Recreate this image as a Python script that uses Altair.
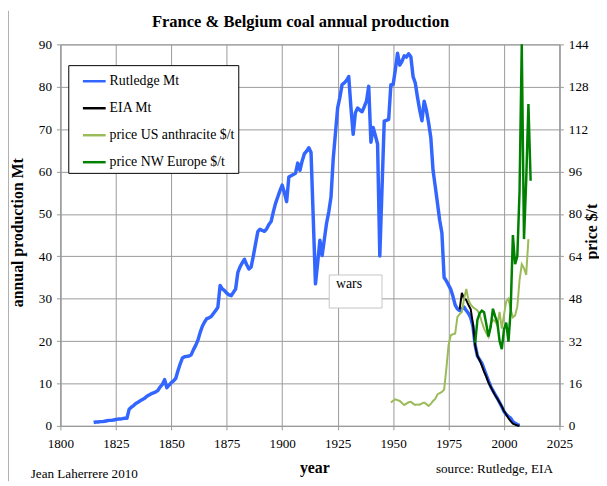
import altair as alt
import pandas as pd

# ---------------- data ----------------
SERIES = ["Rutledge Mt", "EIA Mt", "price US anthracite $/t", "price NW Europe $/t"]
COLORS = ["#3366FF", "#000000", "#9BBB59", "#008000"]

# Rutledge production France+Belgium, Mt, yearly from 1815
rut_start = 1815
rut_values = [
    0.8, 0.9, 0.9, 1.0, 1.0,                                   # 1815-1819
    1.1, 1.2, 1.3, 1.3, 1.4, 1.5, 1.6, 1.6, 1.7, 1.8,          # 1820s
    1.8, 3.9, 4.4, 4.8, 5.3, 5.6, 5.9, 6.2, 6.5, 7.0,          # 1830s
    7.3, 7.6, 7.8, 8.0, 8.4, 9.2, 9.8, 10.9, 9.0, 9.6,         # 1840s
    10.2, 10.6, 11.2, 13.0, 14.6, 16.0, 16.3, 16.4, 16.5, 16.8,  # 1850s
    18.0, 19.0, 20.2, 22.0, 23.5, 24.5, 25.3, 25.5, 25.8, 26.5,  # 1860s
    27.2, 28.0, 33.1, 32.3, 31.9, 31.3, 30.9, 30.7, 31.5, 32.3,  # 1870s
    36.2, 37.5, 38.5, 39.3, 38.0, 37.0, 37.5, 40.1, 43.0, 45.8,  # 1880s
    46.4, 46.1, 45.9, 46.5, 47.5, 48.2, 50.5, 52.5, 54.0, 55.5,  # 1890s
    56.8, 55.0, 52.9, 58.7, 59.0, 59.3, 59.6, 62.0, 60.3, 62.5,  # 1900s
    64.2, 64.8, 65.6, 64.5, 49.0, 33.5, 38.5, 43.8, 40.2, 44.0,  # 1910s
    47.8, 50.5, 54.0, 63.0, 69.0, 75.0, 77.5, 80.5, 80.9, 81.5,  # 1920s
    82.4, 75.0, 68.8, 73.9, 75.0, 74.5, 74.1, 75.3, 76.6, 80.1,  # 1930s
    66.9, 70.4, 68.5, 66.5, 40.1, 56.0, 71.9, 72.1, 72.3, 80.5,  # 1940s
    80.5, 84.0, 87.9, 85.1, 86.0, 87.3, 87.0, 87.8, 87.1, 82.4,  # 1950s
    80.9, 77.5, 74.5, 72.0, 76.6, 74.5, 71.5, 68.0, 60.3, 56.5,  # 1960s
    52.5, 48.5, 45.5, 35.0, 34.2, 33.2, 32.2, 30.5, 28.5, 27.6,  # 1970s
    27.2, 27.6, 28.0, 27.2, 26.5, 25.5, 23.5, 19.0, 16.5, 15.6,  # 1980s
    14.8, 13.4, 12.0, 10.6, 9.3, 8.3, 7.4, 6.5, 5.5, 4.5,        # 1990s
    3.4, 2.7, 2.2, 1.8, 1.0, 0.6, 0.3, 0.1,                      # 2000-2007
]

# EIA production, Mt, yearly from 1980
eia_start = 1980
eia_values = [
    27.5, 31.4, 30.0, 29.7, 28.5, 27.5, 24.0, 19.0, 16.5, 15.5,
    14.2, 12.8, 11.6, 10.2, 9.2, 8.2, 7.2, 6.4, 5.5, 4.6,
    3.5, 2.7, 1.8, 1.1, 0.5, 0.3, 0.1, 0.05,
]

# US anthracite price, $/t, yearly from 1949
us_start = 1949
us_values = [
    8.8,                                                        # 1949
    9.5, 10.0, 9.7, 9.4, 8.6, 7.9, 8.4, 8.9, 9.1, 8.4,          # 1950s
    7.9, 8.1, 8.0, 8.5, 8.8, 8.2, 7.5, 8.3, 9.4, 10.2,          # 1960s
    11.9, 12.4, 12.8, 13.7, 21.5, 30.5, 34.2, 34.6, 34.9, 41.1,  # 1970s
    42.2, 43.0, 48.0, 51.7, 47.3, 45.8, 44.8, 44.2, 43.6, 42.0,  # 1980s
    39.2, 36.7, 35.0, 33.6, 38.5, 40.0, 39.5, 38.0, 43.0, 36.7,  # 1990s
    42.0, 47.0, 48.0, 44.0, 41.0, 41.7, 45.0, 55.0, 61.0, 59.5,  # 2000s
    57.0, 70.5,                                                  # 2010-2011
]

# NW Europe steam coal price, $/t, yearly from 1987
eu_start = 1987
eu_values = [
    31.3, 40.0, 42.5,
    43.5, 42.9, 38.5, 33.7, 37.4, 44.2, 41.3, 39.0, 32.0, 29.0,
    36.5, 39.0, 31.8, 43.6, 72.0, 61.0, 64.0, 88.5, 144.0, 70.5,
    92.5, 121.5, 92.5,
]

TITLE = "France & Belgium coal annual production"
NOTES = ["Jean Laherrere 2010", "source: Rutledge, EIA"]

# annotation box "wars" (year / Mt coordinates)
wars_box = {"x1": [1921.2], "x2": [1945.0], "y1": [35.6], "y2": [27.8]}
wars_label = {"year": [1930.1], "value": [33.5], "t": ["wars"]}

X_TICKS = list(range(1800, 2026, 25))
Y_LEFT_TICKS = list(range(0, 91, 10))
Y_RIGHT_TICKS = list(range(0, 145, 16))


def frame(name, start, values):
    return pd.DataFrame({
        "year": list(range(start, start + len(values))),
        "value": values,
        "series": name,
    })


df_rut = frame(SERIES[0], rut_start, rut_values)
df_eia = frame(SERIES[1], eia_start, eia_values)
df_us = frame(SERIES[2], us_start, us_values)
df_eu = frame(SERIES[3], eu_start, eu_values)

FONT = "Liberation Serif"
GRID = "#9a9a9a"

W, H = 505, 386

xscale = alt.Scale(domain=[1800, 2025], nice=False, zero=False)
xaxis = alt.Axis(values=X_TICKS, format="d", title="year", grid=True,
                 labelFlush=False, labelPadding=7, titleX=257, titleY=42,
                 titleAlign="center", titleBaseline="middle")

yl_scale = alt.Scale(domain=[0, 90], nice=False)
yl_axis = alt.Axis(values=Y_LEFT_TICKS, title="annual production Mt", grid=True,
                   titleX=-43, titleY=190, titleAlign="center",
                   titleBaseline="middle", titleAngle=270)

yr_scale = alt.Scale(domain=[0, 144], nice=False)
yr_axis = alt.Axis(values=Y_RIGHT_TICKS, title="price $/t", grid=False,
                   orient="right", titleX=32, titleY=189, titleAngle=270,
                   titleAlign="center", titleBaseline="middle")

color = alt.Color(
    "series:N",
    scale=alt.Scale(domain=SERIES, range=COLORS),
    legend=alt.Legend(
        title=None, orient="none", legendX=8, legendY=21, direction="vertical",
        symbolType="stroke", symbolSize=529, symbolStrokeWidth=2.5,
        labelFont=FONT, labelFontSize=14, labelColor="black",
        labelExpr="datum.label + '\u00a0\u00a0\u00a0\u00a0\u00a0\u00a0\u00a0'",
        strokeColor="black", fillColor="white", padding=3.3, rowPadding=7.3,
        symbolOffset=10, labelOffset=2.5, cornerRadius=0,
    ),
)

X = alt.X("year:Q", scale=xscale, axis=xaxis)
YL = alt.Y("value:Q", scale=yl_scale, axis=yl_axis)
YR = alt.Y("value:Q", scale=yr_scale, axis=yr_axis)

box = alt.Chart(pd.DataFrame(wars_box)).mark_rect(
    fill="white", stroke="#c4c4c4", strokeWidth=1
).encode(
    x=alt.X("x1:Q", scale=xscale, axis=xaxis), x2="x2:Q",
    y=alt.Y("y1:Q", scale=yl_scale, axis=yl_axis), y2="y2:Q",
)
box_text = alt.Chart(pd.DataFrame(wars_label)).mark_text(
    font=FONT, fontSize=14, color="black"
).encode(x=X, y=YL, text="t:N")

blue = alt.Chart(df_rut).mark_line(strokeWidth=3.5, strokeJoin="round").encode(
    x=X, y=YL, color=color)
black = alt.Chart(df_eia).mark_line(strokeWidth=2).encode(x=X, y=YL, color=color)

lgreen = alt.Chart(df_us).mark_line(strokeWidth=2).encode(x=X, y=YR, color=color)
dgreen = alt.Chart(df_eu).mark_line(strokeWidth=2.5).encode(x=X, y=YR, color=color)

title_mark = alt.Chart(pd.DataFrame({"t": [TITLE]})).mark_text(
    font=FONT, fontSize=16.7, fontWeight="bold", color="black",
    align="center", baseline="middle"
).encode(x=alt.value(243), y=alt.value(-23), text="t:N")

note_left = alt.Chart(pd.DataFrame({"t": [NOTES[0]]})).mark_text(
    font=FONT, fontSize=13.3, align="left", baseline="alphabetic", color="black"
).encode(x=alt.value(-30), y=alt.value(439), text="t:N")
note_right = alt.Chart(pd.DataFrame({"t": [NOTES[1]]})).mark_text(
    font=FONT, fontSize=13.3, align="left", baseline="alphabetic", color="black"
).encode(x=alt.value(380), y=alt.value(434), text="t:N")

border = alt.Chart(pd.DataFrame({"a": [0]})).mark_rule(
    color="#b0b0b0", strokeWidth=1
).encode(x=alt.value(-52.5), y=alt.value(-34), y2=alt.value(H + 56))

left = alt.layer(box, box_text, blue, black, title_mark, note_left, note_right, border)
right = alt.layer(lgreen, dgreen)

chart = alt.layer(left, right).resolve_scale(y="independent").properties(
    width=W, height=H,
    autosize=alt.AutoSizeParams(type="none"),
    padding={"left": 53, "top": 34, "right": 40, "bottom": 56},
).configure_axis(
    labelFont=FONT, labelFontSize=13.3, labelColor="black",
    titleFont=FONT, titleFontSize=16, titleFontWeight="bold", titleColor="black",
    gridColor=GRID, gridWidth=1, domainColor=GRID, tickColor=GRID,
    tickSize=4, labelPadding=5,
).configure_view(stroke=GRID, strokeWidth=1)

chart.save("out.html", embed_options={"renderer": "svg", "actions": False})
